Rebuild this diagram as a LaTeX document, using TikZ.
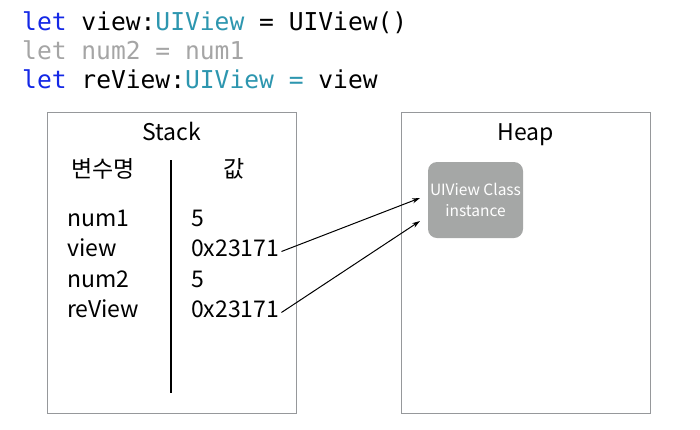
\documentclass[tikz,border=0pt]{standalone}
\usepackage{fontspec}
\setmainfont{Noto Sans CJK KR}
\setmonofont{DejaVu Sans Mono}
\usetikzlibrary{arrows.meta}
\definecolor{kwblue}{RGB}{20,40,230}
\definecolor{typeteal}{RGB}{45,150,175}
\definecolor{dimgray}{RGB}{165,165,165}
\definecolor{boxgray}{RGB}{150,152,155}
\definecolor{instgray}{RGB}{165,167,166}
\begin{document}
\begin{tikzpicture}[x=1pt,y=-1pt,
  codeline/.style={anchor=base west, inner sep=0pt, font=\ttfamily\fontsize{24.6}{24.6}\selectfont},
  panel/.style={draw=boxgray, line width=1pt},
  title/.style={anchor=base, inner sep=0pt, font=\fontsize{23}{23}\selectfont},
  cell/.style={anchor=base west, inner sep=0pt, font=\fontsize{23}{23}\selectfont},
  inst/.style={fill=instgray, rounded corners=9pt, minimum width=95pt, minimum height=76pt, text=white, align=center, font=\fontsize{15.5}{21}\selectfont, inner sep=0pt},
  ptr/.style={-{Stealth[length=8pt,width=5pt]}, line width=1pt}]
\useasboundingbox (0,0) rectangle (700,429);
\node[codeline] (c1) at (22,30) {\textcolor{kwblue}{let} view:\textcolor{typeteal}{UIView} = UIView()};
\node[codeline, text=dimgray] (c2) at (22,59) {let num2 = num1};
\node[codeline] (c3) at (22,88) {\textcolor{kwblue}{let} reView:\textcolor{typeteal}{UIView} \textcolor{typeteal}{=} view};
\draw[panel] (47,112) rectangle (296,413);
\draw[panel] (401,112) rectangle (650,413);
\node[title] (stack) at (171.5,140) {Stack};
\node[title] (heap) at (525.5,140) {Heap};
\node[title] (h1) at (103,177) {변수명};
\node[title] (h2) at (234,177) {값};
\draw[line width=1.2pt] (171,160) -- (171,393);
\node[cell] (n1) at (67,226) {num1};
\node[cell] (n2) at (67,256.5) {view};
\node[cell] (n3) at (67,287) {num2};
\node[cell] (n4) at (67,317.5) {reView};
\node[cell] (v1) at (191,226) {5};
\node[cell] (v2) at (191,256.5) {0x23171};
\node[cell] (v3) at (191,287) {5};
\node[cell] (v4) at (191,317.5) {0x23171};
\node[inst] (obj) at (475.5,200) {UIView Class\\instance};
\coordinate (t1) at (420,198);
\coordinate (t2) at (420,221);
\draw[ptr] ([xshift=2pt,yshift=5pt]v2.base east) -- (t1);
\draw[ptr] ([xshift=2pt,yshift=5pt]v4.base east) -- (t2);
\end{tikzpicture}
\end{document}
